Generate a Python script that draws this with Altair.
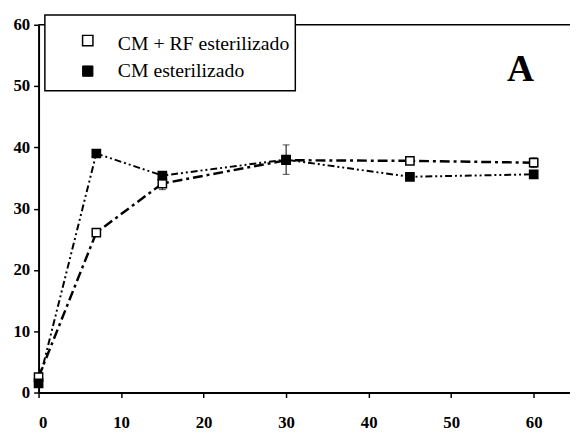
import altair as alt
import pandas as pd

days = [0, 7, 15, 30, 45, 60]
series_names = ["CM + RF esterilizado", "CM esterilizado"]
cm_rf = [2.5, 26.1, 34.1, 37.9, 37.8, 37.5]
cm = [1.5, 39.0, 35.4, 38.0, 35.2, 35.6]
err_cm_rf = [0, 0, 1.0, 0, 0, 0.8]
err_cm = [0, 0, 0, 2.4, 0, 0]
x_ticks = [0, 10, 20, 30, 40, 50, 60]
y_ticks = [0, 10, 20, 30, 40, 50, 60]
panel_label = "A"

rows = []
for name, vals, errs in [(series_names[0], cm_rf, err_cm_rf), (series_names[1], cm, err_cm)]:
    for d, v, e in zip(days, vals, errs):
        rows.append({"day": d, "value": v, "series": name, "lo": v - e, "hi": v + e, "err": e})
df = pd.DataFrame(rows)

W, H = 539, 373
FONT = "'Liberation Serif', 'Times New Roman', Times, serif"
xs = alt.Scale(domain=[0, 64.4], nice=False, zero=False)
ys = alt.Scale(domain=[0, 60], nice=False)

axis_common = dict(title=None, grid=False, labelFont=FONT, labelFontWeight="bold",
                   labelFontSize=17, labelColor="black", domainColor="black",
                   domainWidth=2, tickColor="black", tickWidth=1.5, tickSize=5)
x_axis = alt.Axis(values=x_ticks, labelPadding=17, **axis_common)
y_axis = alt.Axis(values=y_ticks, labelPadding=4, **axis_common)

X = alt.X("day:Q", scale=xs, axis=x_axis)
Y = alt.Y("value:Q", scale=ys, axis=y_axis)

base = alt.Chart(df)
one = alt.Chart(pd.DataFrame({"k": [0]}))

top_border = one.mark_rule(color="black", strokeWidth=1.5).encode(
    x=alt.value(0), x2=alt.value(W), y=alt.value(0))

line_rf = base.transform_filter(alt.datum.series == series_names[0]).mark_line(
    color="black", strokeWidth=2.5, strokeDash=[10, 4, 3, 4]).encode(x=X, y=Y)
line_cm = base.transform_filter(alt.datum.series == series_names[1]).mark_line(
    color="black", strokeWidth=2, strokeDash=[7, 3, 2, 3, 2, 3]).encode(x=X, y=Y)

eb = base.transform_filter(alt.datum.err > 0)
err_rule = eb.mark_rule(color="black", strokeWidth=1).encode(
    x=X, y=alt.Y("lo:Q", scale=ys, axis=y_axis), y2="hi:Q")
cap_lo = eb.mark_tick(orient="horizontal", color="black", size=7, thickness=1).encode(
    x=X, y=alt.Y("lo:Q", scale=ys, axis=y_axis))
cap_hi = eb.mark_tick(orient="horizontal", color="black", size=7, thickness=1).encode(
    x=X, y=alt.Y("hi:Q", scale=ys, axis=y_axis))

pts = base.mark_point(shape="square", filled=True, size=70, stroke="black",
                      strokeWidth=1.5, opacity=1).encode(
    x=X, y=Y,
    fill=alt.Fill("series:N", scale=alt.Scale(domain=series_names, range=["white", "black"]),
                  legend=None))

ox, oy = 38.6, 22
leg_box = one.mark_rect(fill="white", stroke="black", strokeWidth=1.5).encode(
    x=alt.value(45 - ox), x2=alt.value(299 - ox), y=alt.value(12 - oy), y2=alt.value(89 - oy))
leg_s1 = one.mark_point(shape="square", filled=True, fill="white", stroke="black",
                        strokeWidth=1.5, size=110, opacity=1).encode(
    x=alt.value(88.5 - ox), y=alt.value(38 - oy))
leg_s2 = one.mark_point(shape="square", filled=True, fill="black", stroke="black",
                        strokeWidth=1, size=110, opacity=1).encode(
    x=alt.value(88.5 - ox), y=alt.value(69 - oy))
leg_t1 = one.mark_text(text=series_names[0], font=FONT, fontSize=20, align="left",
                       baseline="alphabetic", color="black").encode(
    x=alt.value(119 - ox), y=alt.value(48 - oy))
leg_t2 = one.mark_text(text=series_names[1], font=FONT, fontSize=20, align="left",
                       baseline="alphabetic", color="black").encode(
    x=alt.value(119 - ox), y=alt.value(75 - oy))
label_a = one.mark_text(text=panel_label, font=FONT, fontWeight="bold", fontSize=38,
                        align="center", baseline="alphabetic", color="black").encode(
    x=alt.value(527.5 - ox), y=alt.value(79 - oy))

chart = alt.layer(
    top_border, line_rf, line_cm, err_rule, cap_lo, cap_hi, pts,
    leg_box, leg_s1, leg_s2, leg_t1, leg_t2, label_a
).properties(
    width=W, height=H,
    autosize=alt.AutoSizeParams(type="none"),
    padding={"left": 31, "top": 14, "right": 0, "bottom": 36},
    background="white",
).configure_view(stroke=None)

chart.save("out.html", embed_options={"renderer": "svg", "actions": False})
